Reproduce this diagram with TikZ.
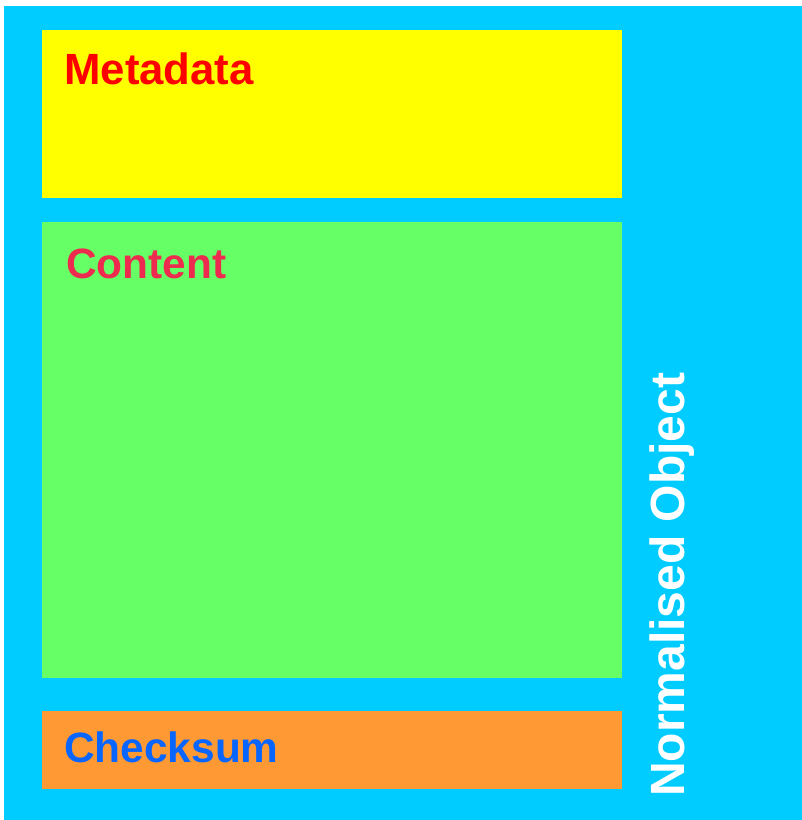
\documentclass[tikz,border=0pt]{standalone}
\usepackage{fontspec}
\setmainfont{Liberation Sans}
\usepackage{tikz}
\definecolor{objblue}{HTML}{00CCFF}
\definecolor{metayellow}{HTML}{FFFF00}
\definecolor{contgreen}{HTML}{66FF66}
\definecolor{sumorange}{HTML}{FF9933}
\definecolor{metared}{HTML}{FF0000}
\definecolor{contred}{HTML}{EE2A4E}
\definecolor{sumblue}{HTML}{0866FF}
\tikzset{
    part/.style={inner sep=0pt, anchor=base west, font=\fontsize{31.8}{36}\selectfont\bfseries}}

\begin{document}
\begin{tikzpicture}[x=0.75pt, y=-0.75pt]

            \useasboundingbox (0,0) rectangle (802,820);
            \fill[objblue] (4,6) rectangle (802,820);
            \fill[metayellow] (42,30) rectangle (622,198);
            \fill[contgreen] (42,222) rectangle (622,678);
            \fill[sumorange] (42,711) rectangle (622,789);

            \node[part, text=metared, font=\fontsize{32.8}{36}\selectfont\bfseries] (meta) at (64,85) {Metadata};
            \node[part, text=contred] (cont) at (66,278) {Content};
            \node[part, text=sumblue] (sum) at (64,762) {Checksum};
            \node[inner sep=0pt, anchor=base west, rotate=90, text=white,
                font=\fontsize{36}{40}\selectfont\bfseries] (obj) at (684,797) {Normalised Object};

        \end{tikzpicture}
\end{document}
